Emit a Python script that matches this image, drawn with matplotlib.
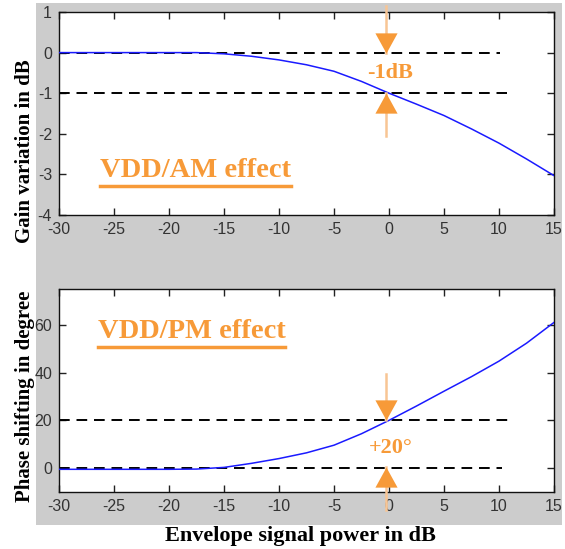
import numpy as np
import matplotlib
matplotlib.use("Agg")
import matplotlib.pyplot as plt
from matplotlib.path import Path
from matplotlib.patches import Rectangle
from matplotlib.lines import Line2D

plt.rcParams["axes.unicode_minus"] = False

# envelope power (dB) and the two measured curves
power_db = [-30, -25, -20, -17.5, -15, -12.5, -10, -7.5, -5, -2.5, 0, 2.5, 5, 7.5, 10, 12.5, 15]
gain_db = [0, 0, 0, 0, -0.03, -0.09, -0.18, -0.30, -0.46, -0.71, -1.0, -1.27, -1.55, -1.88, -2.23, -2.62, -3.03]
phase_deg = [-0.5, -0.5, -0.5, -0.4, 0.3, 2.0, 4.0, 6.4, 9.6, 14.4, 20, 26.0, 32.2, 38.3, 44.8, 52.3, 61]

# reference levels: (level, end of dashed line in dB)
gain_refs = [(0, 10.1), (-1, 10.7)]
phase_refs = [(20, 11.0), (0, 10.3)]

x_ticks = [-30, -25, -20, -15, -10, -5, 0, 5, 10, 15]
gain_ticks = [-4, -3, -2, -1, 0, 1]
phase_ticks = [0, 20, 40, 60]

ORANGE = "#F79A38"
SHAFT = "#F8C594"
TICKFONT = "Liberation Sans"
SERIF = "Liberation Serif"

W, H = 565, 549
fig = plt.figure(figsize=(W / 100, H / 100), dpi=100)
fig.patch.set_facecolor("white")
fig.add_artist(Rectangle((36 / W, 1 - 525 / H), 526 / W, 522 / H,
                         transform=fig.transFigure, facecolor="#cccccc",
                         edgecolor="none", zorder=-10))

ax1 = fig.add_axes([59 / W, 1 - 215 / H, 495 / W, 203 / H])
ax2 = fig.add_axes([59 / W, 1 - 492 / H, 495 / W, 203 / H])

# arrow heads with the tip at the origin
down_head = Path([(0, 0), (-0.55, 1), (0.55, 1), (0, 0)])
up_head = Path([(0, 0), (-0.55, -1), (0.55, -1), (0, 0)])


def style_axes(ax, yticks, ylim):
    ax.set_facecolor("white")
    ax.set_xlim(-30, 15)
    ax.set_ylim(*ylim)
    ax.set_xticks(x_ticks)
    ax.set_yticks(yticks)
    ax.tick_params(direction="in", length=5, width=1, top=True, right=True,
                   colors="#222222", labelcolor="#333333", pad=5)
    for lab in ax.get_xticklabels() + ax.get_yticklabels():
        lab.set_family(TICKFONT)
        lab.set_fontsize(11.5)
    for s in ax.spines.values():
        s.set_linewidth(1)
        s.set_color("#111111")


def arrow(ax, x, tail, tip, head):
    ax.plot([x, x], [tail, tip], color=SHAFT, lw=1.8, clip_on=False, zorder=4)
    ax.plot([x], [tip], marker=head, markersize=29, color=ORANGE,
            markeredgewidth=0, clip_on=False, zorder=5)


def underlined(ax, x, y, s):
    t = ax.text(x, y, s, color=ORANGE, fontsize=20.5, fontweight="bold",
                family=SERIF, va="center", ha="left")
    fig.canvas.draw()
    bb = t.get_window_extent()
    y0 = bb.y0 - 3
    fig.add_artist(Line2D([bb.x0 / W, bb.x1 / W], [y0 / H, y0 / H],
                          transform=fig.transFigure, color=ORANGE, lw=2.5))


# top panel: gain
style_axes(ax1, gain_ticks, (-4, 1))
for lvl, end in gain_refs:
    ax1.plot([-30, end], [lvl, lvl], color="black", lw=1.4, dashes=(5.5, 3.5), zorder=2)
ax1.plot(power_db, gain_db, color="#1a1aff", lw=1.1, zorder=3)
arrow(ax1, -0.3, 1.15, 0.0, down_head)
arrow(ax1, -0.3, -2.05, -1.0, up_head)
ax1.text(0.1, -0.5, "-1dB", color=ORANGE, fontsize=16, fontweight="bold",
         family=SERIF, ha="center", va="center")

# bottom panel: phase
style_axes(ax2, phase_ticks, (-10, 75))
for lvl, end in phase_refs:
    ax2.plot([-30, end], [lvl, lvl], color="black", lw=1.4, dashes=(5.5, 3.5), zorder=2)
ax2.plot(power_db, phase_deg, color="#1a1aff", lw=1.1, zorder=3)
arrow(ax2, -0.3, 39.3, 20.0, down_head)
arrow(ax2, -0.3, -17.5, 0.6, up_head)
ax2.text(0.2, 8.4, "+20°", color=ORANGE, fontsize=16, fontweight="bold",
         family=SERIF, ha="center", va="center")

fig.text(25 / W, 1 - 151 / H, "Gain variation in dB", rotation=90, family=SERIF,
         fontweight="bold", fontsize=15, ha="center", va="center")
fig.text(25 / W, 1 - 396 / H, "Phase shifting in degree", rotation=90, family=SERIF,
         fontweight="bold", fontsize=15, ha="center", va="center")
fig.text(300 / W, 1 - 536 / H, "Envelope signal power in dB", family=SERIF,
         fontweight="bold", fontsize=16, ha="center", va="center")

underlined(ax1, -26.3, -2.9, "VDD/AM effect")
underlined(ax2, -26.5, 57.3, "VDD/PM effect")

fig.savefig("out.png", dpi=100)
